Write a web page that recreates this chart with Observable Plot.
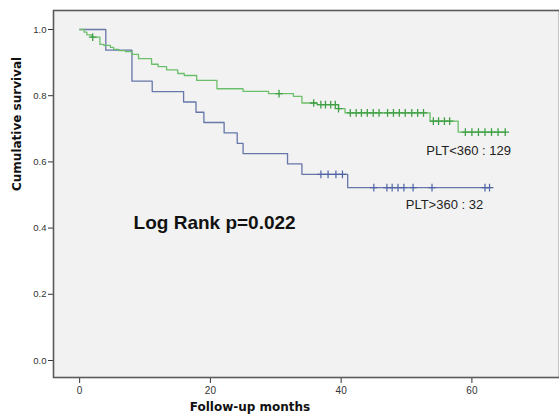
<!DOCTYPE html>
<html>
<head>
<meta charset="utf-8">
<script src="https://cdn.jsdelivr.net/npm/d3@7"></script>
<script src="https://cdn.jsdelivr.net/npm/@observablehq/plot@0.6"></script>
<style>
  html, body { margin: 0; padding: 0; background: #fff; }
  #chart { width: 559px; height: 417px; overflow: hidden; }
</style>
</head>
<body>
<div id="chart"></div>
<script>
// ---- Data (Kaplan–Meier steps) ----
// PLT>360 : 32 (blue)
const blueTimes = [0, 4.0, 8.0, 11.1, 15.9, 17.8, 19.0, 22.1, 24.1, 25.0, 31.8, 34.0, 41.0];
const blueSurv  = [1.0, 0.9375, 0.844, 0.8125, 0.781, 0.75, 0.719, 0.6875, 0.656, 0.625, 0.594, 0.5625, 0.522];
const blueCensor = [36.9, 38.0, 39.2, 40.2, 45.0, 47.0, 47.8, 48.7, 49.6, 51.0, 53.9, 62.0, 62.7];

// PLT<360 : 129 (green)
const greenTimes = [0, 0.7, 1.1, 1.8, 3.1, 3.7, 4.7, 5.2, 6.0, 7.0, 8.0, 9.0, 11.0, 12.0, 13.3, 15.0, 16.0, 17.9, 21.0, 25.0, 28.9, 32.7, 34.0, 36.3, 39.6, 40.6, 53.6, 57.9];
const greenSurv  = [1.0, 0.992, 0.984, 0.977, 0.955, 0.952, 0.946, 0.940, 0.936, 0.933, 0.925, 0.912, 0.895, 0.888, 0.878, 0.867, 0.861, 0.846, 0.821, 0.813, 0.806, 0.798, 0.778, 0.773, 0.761, 0.748, 0.723, 0.690];
const greenCensor = [2.0, 30.5, 35.8, 36.9, 37.6, 38.4, 39.1, 39.6, 41.4, 42.3, 43.1, 44.0, 44.9, 45.8, 47.1, 48.0, 48.9, 49.8, 50.8, 51.7, 52.6, 54.1, 54.9, 55.8, 56.6, 59.0, 60.0, 61.0, 62.0, 63.0, 64.0, 65.1];

const groupLabels = ["PLT<360 : 129", "PLT>360 : 32"];
const statText = "Log Rank p=0.022";
const xTicks = [0, 20, 40, 60];
const yTicks = [0, 0.2, 0.4, 0.6, 0.8, 1.0];
const xTitle = "Follow-up months";
const yTitle = "Cumulative survival";

// ---- Build tables ----
function stepAt(times, surv, t) {
  let v = surv[0];
  for (let i = 0; i < times.length; i++) if (times[i] <= t) v = surv[i];
  return v;
}
function curve(times, surv, censor) {
  const pts = times.map((t, i) => ({t, s: surv[i]}));
  const end = d3.max(censor.concat(times));
  pts.push({t: end, s: stepAt(times, surv, end)});
  return pts;
}
function marks(times, surv, censor) {
  return censor.map(t => ({t, s: stepAt(times, surv, t)}));
}
const blueLine = curve(blueTimes, blueSurv, blueCensor);
const greenLine = curve(greenTimes, greenSurv, greenCensor);
const blueMarks = marks(blueTimes, blueSurv, blueCensor);
const greenMarks = marks(greenTimes, greenSurv, greenCensor);

const GREEN = "#6cbf6a", GREEN_D = "#3f9f45";
const BLUE = "#6677a8", BLUE_D = "#4f64a6";

const chart = Plot.plot({
  width: 559,
  height: 417,
  marginLeft: 53,
  marginRight: 0,
  marginTop: 10,
  marginBottom: 40,
  style: {fontFamily: "'Liberation Sans', Arial, sans-serif", background: "#fff", overflow: "visible"},
  x: {domain: [-4, 73.4]},
  y: {domain: [-0.0514, 1.0574]},
  marks: [
    Plot.frame({fill: "#f2f2f2", stroke: null}),
    Plot.axisY({ticks: yTicks, tickFormat: d3.format(".1f"), tickSize: 5, tickPadding: 2, fontSize: 9.5, color: "#333", label: null}),
    Plot.axisX({ticks: xTicks, tickFormat: d3.format("d"), tickSize: 6, tickPadding: 3, fontSize: 10, color: "#333", label: null}),
    Plot.line(blueLine, {x: "t", y: "s", curve: "step-after", stroke: BLUE, strokeWidth: 1.3}),
    Plot.line(greenLine, {x: "t", y: "s", curve: "step-after", stroke: GREEN, strokeWidth: 1.3}),
    Plot.dot(blueMarks, {x: "t", y: "s", symbol: "plus", r: 2.6, stroke: BLUE_D, strokeWidth: 1.2}),
    Plot.dot(greenMarks, {x: "t", y: "s", symbol: "plus", r: 2.6, stroke: GREEN_D, strokeWidth: 1.3}),
    Plot.text([groupLabels[0]], {x: 59.5, y: 0.633, text: d => d, fontSize: 13, fill: "#222", textAnchor: "middle"}),
    Plot.text([groupLabels[1]], {x: 55.8, y: 0.471, text: d => d, fontSize: 13, fill: "#222", textAnchor: "middle"}),
    Plot.text([statText], {x: 8.25, y: 0.417, text: d => d, fontSize: 19, fontWeight: "bold", fill: "#111", textAnchor: "start"}),
    Plot.text([xTitle], {x: 26.05, frameAnchor: "bottom", dy: 33, text: d => d, fontSize: 12, fontWeight: "bold", fontFamily: "'DejaVu Sans', Verdana, sans-serif", fill: "#111"}),
    Plot.text([yTitle], {y: 0.512, frameAnchor: "left", dx: -36, rotate: -90, text: d => d, fontSize: 12, fontWeight: "bold", fontFamily: "'DejaVu Sans', Verdana, sans-serif", fill: "#111"}),
    Plot.frame({stroke: "#5a5a5a", strokeWidth: 1.6})
  ]
});
document.getElementById("chart").appendChild(chart);
</script>
</body>
</html>
